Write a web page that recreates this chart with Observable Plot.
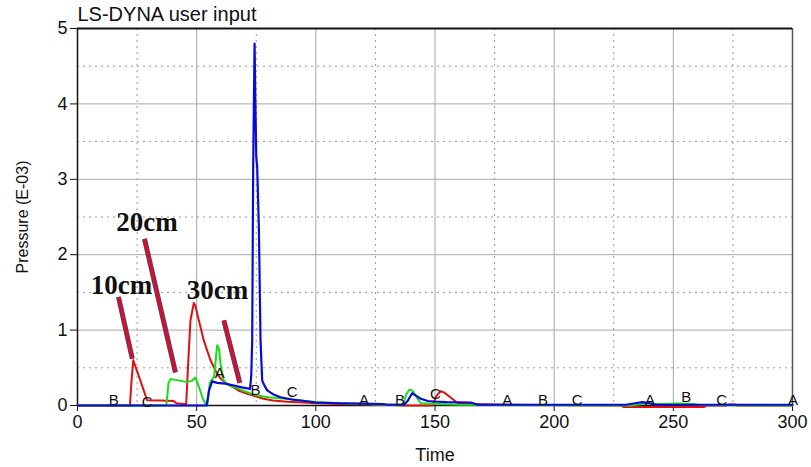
<!DOCTYPE html>
<html>
<head>
<meta charset="utf-8">
<script src="https://cdn.jsdelivr.net/npm/d3@7"></script>
<script src="https://cdn.jsdelivr.net/npm/@observablehq/plot@0.6"></script>
<style>
  html, body { margin: 0; padding: 0; background: #fff; }
  #chart svg { display: block; }
</style>
</head>
<body>
<div id="chart"></div>
<script>
// ---- data ----
const titleText = "LS-DYNA user input";
const xLabel = "Time";
const yLabel = "Pressure (E-03)";

const xMajorTicks = [0, 50, 100, 150, 200, 250, 300];
const xMinorTicks = [25, 75, 125, 175, 225, 275];
const yMajorTicks = [0, 1, 2, 3, 4, 5];
const yMinorTicks = [0.5, 1.5, 2.5, 3.5, 4.5];

// 10cm (red)
const redT = [0, 22, 22.6, 23.4, 24.5, 26.4, 28, 29.2, 35, 40.3, 41.5, 44.5, 45.6, 46.5, 47.4, 48.8, 49.5, 50.2, 51.6, 53, 55.8, 58.6, 60, 62, 65.5, 68, 71.2, 75, 78, 82, 88, 95, 100, 110, 120, 130, 137, 149, 150.5, 152.3, 154, 156, 158, 159.5, 165, 180, 228, 229, 263, 264, 272, 273, 276, 277, 300];
const redP = [0, 0, 0.3, 0.6, 0.5, 0.33, 0.18, 0.07, 0.065, 0.06, 0.03, 0.02, 0.02, 0.6, 1.13, 1.36, 1.32, 1.22, 1.04, 0.86, 0.6, 0.42, 0.36, 0.3, 0.24, 0.19, 0.155, 0.12, 0.09, 0.066, 0.05, 0.04, 0.03, 0.02, 0.015, 0.01, 0, 0, 0.12, 0.19, 0.17, 0.12, 0.07, 0.03, 0.02, 0.01, 0, -0.02, -0.02, 0, 0, 0.012, 0.012, 0, 0];

// 20cm (green)
const greenT = [0, 37.3, 38.2, 39, 41, 43, 46, 48, 49.5, 50.9, 52.5, 53.7, 54.4, 55.5, 57.3, 58.6, 59.4, 60, 61, 62.9, 65, 67, 70, 72.6, 76, 80, 84, 90, 94, 100, 110, 120, 130, 136.5, 138, 139.2, 140.5, 142.5, 144, 160, 232, 236, 239, 242, 246, 252, 258, 262, 300];
const greenP = [0, 0, 0.3, 0.35, 0.34, 0.33, 0.31, 0.33, 0.37, 0.25, 0.1, 0.02, 0, 0.3, 0.38, 0.8, 0.74, 0.56, 0.35, 0.28, 0.25, 0.23, 0.19, 0.16, 0.13, 0.11, 0.1, 0.08, 0.066, 0.045, 0.03, 0.02, 0.01, 0.01, 0.15, 0.21, 0.2, 0.1, 0.03, 0.01, 0, 0.015, 0.03, 0.02, 0.02, 0.025, 0.02, 0.005, 0];

// 30cm (blue)
const blueT = [0, 54.2, 55.2, 56.5, 58.6, 62, 65.6, 69, 72.4, 72.9, 73.3, 73.7, 74.0, 74.3, 74.6, 75.0, 75.4, 76.1, 76.8, 77.5, 78.5, 79.6, 82, 85.2, 90, 93.6, 100, 110, 120, 128, 130, 137, 138.5, 140.4, 142, 144, 147, 149.5, 155, 165, 168, 230, 234, 237, 240, 243, 300];
const blueP = [0, 0, 0.2, 0.32, 0.3, 0.29, 0.265, 0.24, 0.22, 0.4, 0.86, 3.1, 4.0, 4.8, 4.1, 3.3, 3.16, 2.36, 0.86, 0.33, 0.26, 0.2, 0.15, 0.11, 0.08, 0.066, 0.04, 0.03, 0.025, 0.02, 0.01, 0.01, 0.06, 0.163, 0.13, 0.09, 0.06, 0.053, 0.045, 0.04, 0.01, 0.01, 0.03, 0.045, 0.03, 0.01, 0.01];

// curve marker letters
const markerLetters = ["B", "C", "A", "B", "C", "A", "B", "C", "A", "B", "C", "A", "B", "C", "A"];
const markerT = [15.2, 29.2, 59.7, 74.7, 90.1, 120.2, 135.3, 150.2, 180.3, 195.3, 209.7, 240.2, 255.4, 270.3, 300.2];
const markerP = [0.066, 0.04, 0.43, 0.2, 0.18, 0.075, 0.075, 0.155, 0.075, 0.075, 0.075, 0.075, 0.11, 0.075, 0.07];

// annotations
const annoLabels = ["10cm", "20cm", "30cm"];
const annoT = [18.5, 29.2, 58.7];
const annoP = [1.59, 2.43, 1.53];
const arrowT1 = [17.2, 28.1, 61.4];
const arrowP1 = [1.44, 2.21, 1.13];
const arrowT2 = [23.0, 41.1, 68.1];
const arrowP2 = [0.62, 0.44, 0.30];

// ---- build tables ----
const toRows = (T, P) => T.map((t, i) => ({t, p: P[i]}));
const red = toRows(redT, redP);
const green = toRows(greenT, greenP);
const blue = toRows(blueT, blueP);
const markers = markerLetters.map((l, i) => ({label: l, t: markerT[i], p: markerP[i]}));
const annos = annoLabels.map((l, i) => ({label: l, t: annoT[i], p: annoP[i]}));
const arrows = arrowT1.map((t, i) => ({x1: t, y1: arrowP1[i], x2: arrowT2[i], y2: arrowP2[i]}));

const FONT = "'Liberation Sans', Arial, sans-serif";

const chart = Plot.plot({
  width: 811,
  height: 467,
  marginLeft: 77,
  marginRight: 19,
  marginTop: 28,
  marginBottom: 62,
  style: {fontFamily: FONT, background: "#fff"},
  x: {domain: [0, 300], axis: null},
  y: {domain: [0, 5], axis: null},
  marks: [
    // grid
    Plot.ruleX(xMinorTicks, {stroke: "#9a9a9a", strokeWidth: 1, strokeDasharray: "2,4"}),
    Plot.ruleY(yMinorTicks, {stroke: "#9a9a9a", strokeWidth: 1, strokeDasharray: "2,4"}),
    Plot.ruleX(xMajorTicks.filter(d => d > 0 && d < 300), {stroke: "#a8a8a8", strokeWidth: 1}),
    Plot.ruleY(yMajorTicks.filter(d => d > 0 && d < 5), {stroke: "#a8a8a8", strokeWidth: 1}),
    // frame
    Plot.ruleX([300], {stroke: "#555", strokeWidth: 1.5}),
    Plot.ruleY([5], {stroke: "#111", strokeWidth: 2}),
    Plot.ruleX([0], {stroke: "#111", strokeWidth: 1.5}),
    Plot.ruleY([0], {stroke: "#111", strokeWidth: 1.5}),
    // axes
    Plot.axisX(xMajorTicks, {tickSize: 6, tickPadding: 4, fontSize: 18, fill: "#111", stroke: "#111", label: null, tickFormat: d => String(d)}),
    Plot.axisY(yMajorTicks, {tickSize: 7, tickPadding: 3, fontSize: 18, fill: "#111", stroke: "#111", label: null, tickFormat: d => String(d)}),
    // series
    Plot.line(red, {x: "t", y: "p", stroke: "#e01010", strokeWidth: 2}),
    Plot.line(green, {x: "t", y: "p", stroke: "#18dd18", strokeWidth: 2}),
    Plot.line(blue, {x: "t", y: "p", stroke: "#0a0ad8", strokeWidth: 2.2}),
    // curve markers
    Plot.text(markers, {x: "t", y: "p", text: "label", fontSize: 15, fill: "#111"}),
    // annotation arrows (red with thin blue outline, tiny heads)
    Plot.link(arrows, {x1: "x1", y1: "y1", x2: "x2", y2: "y2", stroke: "#33449a", strokeWidth: 5}),
    Plot.link(arrows, {x1: "x1", y1: "y1", x2: "x2", y2: "y2", stroke: "#d81020", strokeWidth: 3.4}),
    Plot.text(annos, {x: "t", y: "p", text: "label", fontSize: 27, fontWeight: "bold", fontFamily: "'Liberation Serif', 'Times New Roman', serif", fill: "#111"}),
    // title and axis labels
    Plot.text([titleText], {x: () => 0, y: () => 5, dy: -14, text: d => d, fontSize: 20, fill: "#111", textAnchor: "start"}),
    Plot.text([xLabel], {x: () => 150, y: () => 0, dy: 50, text: d => d, fontSize: 18, fill: "#111"}),
    Plot.text([yLabel], {x: () => 0, y: () => 2.5, dx: -55, rotate: -90, text: d => d, fontSize: 16, fill: "#111"})
  ]
});
document.getElementById("chart").appendChild(chart);
</script>
</body>
</html>
